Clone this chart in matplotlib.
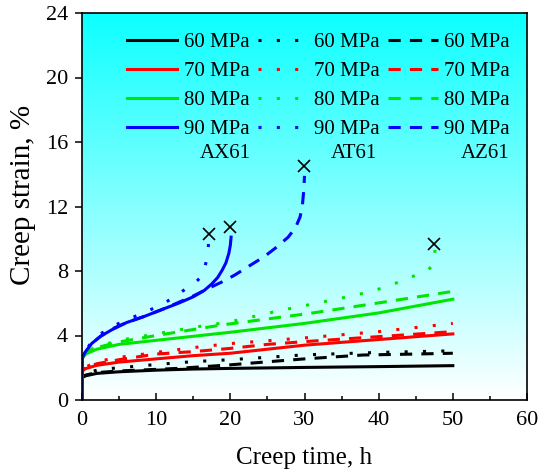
import numpy as np
import matplotlib
matplotlib.use('Agg')
import matplotlib.pyplot as plt
from matplotlib.lines import Line2D
from matplotlib.ticker import MultipleLocator

plt.rcParams['font.family'] = ['Liberation Serif', 'DejaVu Serif']

colors = ['black', '#ff0000', '#00e600', '#0000ff']
stress = ['60 MPa', '70 MPa', '80 MPa', '90 MPa']
alloys = ['AX61', 'AT61', 'AZ61']
styles = ['-', (0, (1, 5)), (0, (4, 3))]

# AX61 (solid)
ax61_t = [
    [0, 0.05, 0.5, 2, 5, 10, 15, 20, 30, 40, 50],
    [0, 0.05, 0.5, 2, 5, 10, 15, 20, 30, 40, 50],
    [0, 0.05, 0.5, 2, 5, 10, 15, 20, 30, 40, 50],
    [0, 0.05, 0.4, 1.3, 2.5, 4, 6, 8.5, 11, 13, 15, 16.5, 17.5, 18.3, 18.9, 19.4, 19.8, 20.0, 20.1],
]
ax61_y = [
    [0, 1.4, 1.5, 1.65, 1.75, 1.85, 1.92, 1.96, 2.02, 2.07, 2.13],
    [0, 1.8, 1.95, 2.15, 2.35, 2.55, 2.75, 2.9, 3.4, 3.75, 4.1],
    [0, 2.6, 2.85, 3.15, 3.45, 3.7, 3.95, 4.2, 4.75, 5.4, 6.25],
    [0, 2.6, 2.9, 3.5, 3.95, 4.35, 4.8, 5.2, 5.65, 6.0, 6.4, 6.8, 7.2, 7.6, 8.05, 8.5, 9.1, 9.6, 10.1],
]

# AT61 (dotted)
at61_t = [
    [0, 0.05, 0.5, 2, 4, 10, 15, 20, 30, 40, 50],
    [0, 0.05, 0.5, 2, 4, 10, 15, 20, 30, 40, 50],
    [0, 0.05, 0.5, 2, 5, 10, 15, 20, 26.7, 30, 34.8, 38.8, 41.5, 44, 45.6, 46.6, 47.2, 47.5, 47.6],
    [0, 0.05, 0.4, 1.3, 2.5, 4, 6.2, 8.5, 10.7, 12.5, 14.3, 15.3, 16.1, 16.5, 16.8, 17.0, 17.1],
]
at61_y = [
    [0, 1.5, 1.65, 1.85, 1.96, 2.2, 2.38, 2.5, 2.8, 2.95, 3.05],
    [0, 1.9, 2.05, 2.35, 2.58, 2.95, 3.25, 3.5, 3.85, 4.24, 4.75],
    [0, 2.7, 3.0, 3.3, 3.7, 4.1, 4.5, 4.85, 5.55, 5.85, 6.3, 6.7, 7.1, 7.55, 7.85, 8.05, 8.3, 8.8, 9.3],
    [0, 2.7, 3.0, 3.6, 4.1, 4.55, 5.0, 5.45, 5.9, 6.4, 7.0, 7.3, 7.65, 8.1, 8.7, 9.3, 10.0],
]

# AZ61 (dashed)
az61_t = [
    [0, 0.05, 0.5, 2, 5, 10, 12.9, 19.7, 25.3, 30, 37.9, 45, 50],
    [0, 0.05, 0.5, 2, 5, 10, 15, 20, 25, 30, 40, 50],
    [0, 0.05, 0.5, 2, 5, 10, 18.8, 30.7, 39.7, 49.8],
    [0, 0.05, 0.4, 1.3, 2.5, 4, 6, 8.5, 11, 13, 15, 17.4, 19, 20.6, 22.5, 24.6, 26.3, 27.8, 28.8,
     29.4, 29.7, 29.9, 30.0],
]
az61_y = [
    [0, 1.45, 1.55, 1.7, 1.8, 1.9, 1.96, 2.17, 2.38, 2.55, 2.79, 2.85, 2.9],
    [0, 1.85, 2.0, 2.25, 2.5, 2.85, 3.0, 3.2, 3.45, 3.62, 3.93, 4.24],
    [0, 2.65, 2.95, 3.25, 3.6, 4.0, 4.65, 5.37, 6.0, 6.72],
    [0, 2.65, 2.95, 3.5, 3.95, 4.4, 4.8, 5.2, 5.65, 6.05, 6.45, 7.0, 7.35, 7.75, 8.3, 8.9, 9.5,
     10.1, 10.7, 11.35, 12.0, 13.0, 13.9],
]

# fracture points
cross_t = [17.1, 20.0, 29.9, 47.5]
cross_y = [10.3, 10.7, 14.5, 9.7]

fig = plt.figure(figsize=(5.38, 4.72), dpi=100)
ax = fig.add_axes([82 / 538, 1 - 400 / 472, 445 / 538, 387 / 472])

# cyan -> white background
f = np.linspace(0, 1, 256).reshape(-1, 1, 1)
top = np.array([0.05, 1.0, 1.0])
grad = top * (1 - f) + np.ones(3) * f
ax.imshow(grad, extent=[0, 60, 0, 24], aspect='auto', origin='upper', zorder=0)

data = [(ax61_t, ax61_y), (at61_t, at61_y), (az61_t, az61_y)]
for (ts, ys), ls in zip(data, styles):
    for t, y, c in zip(ts, ys, colors):
        ax.plot(t, y, color=c, ls=ls, lw=2.2, zorder=2)

ax.plot(cross_t, cross_y, 'x', color='black', ms=9, mew=1.2, zorder=3)

ax.set_xlim(0, 60)
ax.set_ylim(0, 24)
ax.xaxis.set_major_locator(MultipleLocator(10))
ax.xaxis.set_minor_locator(MultipleLocator(5))
ax.yaxis.set_major_locator(MultipleLocator(4))
ax.tick_params(axis='x', which='both', direction='in', labelsize=16, pad=8)
ax.tick_params(axis='x', which='major', length=5, width=1.1)
ax.tick_params(axis='x', which='minor', length=3, width=1.1)
ax.tick_params(axis='y', direction='out', length=5, width=1.1, labelsize=16, pad=5)
for s in ax.spines.values():
    s.set_linewidth(1.2)

ax.set_xlabel('Creep time, h', fontsize=18, labelpad=12)
ax.set_ylabel('Creep strain, %', fontsize=21)
ax.yaxis.set_label_coords(-0.103, 0.53)

handles, labels = [], []
for ls in styles:
    for c, s in zip(colors, stress):
        handles.append(Line2D([], [], color=c, ls=ls, lw=2.2))
        labels.append(s)
ax.legend(handles, labels, ncol=3, frameon=False, fontsize=15,
          loc='upper right', bbox_to_anchor=(0.962, 0.95),
          borderpad=0, borderaxespad=0, handlelength=2.4,
          handletextpad=0.3, columnspacing=0.4, labelspacing=0.45)

for name, xt in zip(alloys, [22.7, 39.8, 57.65]):
    ax.text(xt, 15.3, name, fontsize=15, ha='right', va='center')

fig.savefig('out.png', dpi=100)
